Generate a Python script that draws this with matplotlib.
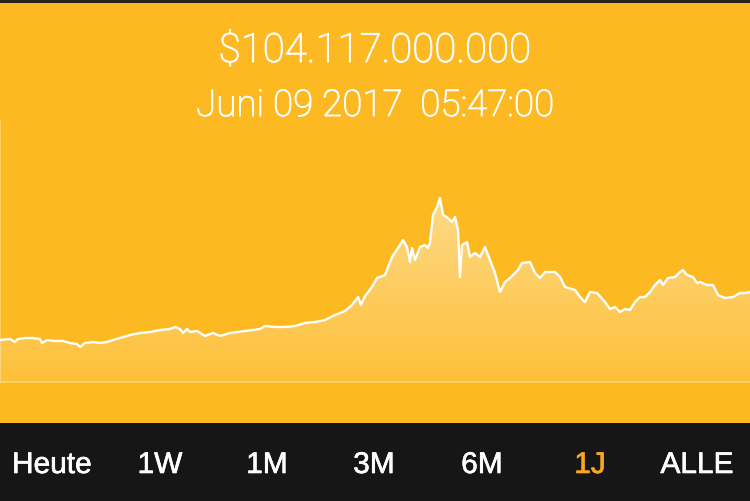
import numpy as np
import matplotlib
matplotlib.use("Agg")
import matplotlib.pyplot as plt
from matplotlib.patches import Polygon, Rectangle
import matplotlib.patheffects as pe

# ---- data (time index, relative market-cap level) ----
t = [0, 10, 15, 18, 25, 33, 40, 42, 47, 55, 63, 70, 77, 80, 85, 93, 100, 107, 113, 120,
     130, 140, 150, 160, 170, 175, 180, 183, 187, 190, 197, 205, 213, 220, 230, 245, 260,
     265, 275, 285, 295, 305, 315, 325, 335, 345, 352, 358, 361, 365, 372, 377, 385, 392,
     400, 403, 407, 410, 412, 415, 420, 425, 428, 430, 433, 437, 440, 443, 448, 452, 455,
     458, 460, 462, 467, 470, 475, 480, 485, 490, 495, 500, 505, 510, 518, 522, 530, 535,
     540, 545, 555, 560, 565, 575, 580, 585, 590, 597, 605, 610, 615, 620, 625, 630, 635,
     640, 645, 650, 655, 660, 663, 668, 675, 680, 683, 687, 693, 697, 700, 707, 713, 718,
     725, 733, 740, 745, 750]
level_px = [340, 339, 342, 339, 338, 338, 339, 343, 340, 341, 341, 343, 344, 347, 343, 342,
            343, 342, 340, 338, 335, 333, 332, 330, 329, 327, 329, 333, 329, 332, 331, 336,
            333, 336, 333, 331, 329, 326, 327, 327, 326, 323, 322, 320, 315, 311, 305, 297,
            305, 296, 287, 278, 275, 257, 245, 240, 247, 262, 248, 260, 247, 245, 248, 243,
            215, 207, 198, 215, 218, 222, 217, 230, 277, 245, 242, 257, 253, 257, 247, 260,
            273, 292, 282, 278, 270, 263, 262, 273, 278, 272, 272, 277, 287, 290, 297, 302,
            292, 293, 302, 309, 307, 312, 309, 310, 302, 297, 297, 292, 285, 280, 285, 278,
            277, 272, 270, 275, 277, 283, 282, 285, 285, 295, 298, 297, 293, 293, 292]
values = [382 - v for v in level_px]

title_value = "$104.117.000.000"
title_date = "Juni 09 2017  05:47:00"
ranges = ["Heute", "1W", "1M", "3M", "6M", "1J", "ALLE"]
active_range = "1J"

# ---- styling ----
BG = "#FDB922"
DARK = "#161616"
ACTIVE = "#F7A823"
W, H = 750, 501

fig = plt.figure(figsize=(W / 100, H / 100), dpi=100, facecolor=BG)

fig.patches.append(Rectangle((0, 1 - 3 / H), 1, 3 / H, transform=fig.transFigure,
                             facecolor="#2B241A", edgecolor="none", zorder=0))
fig.patches.append(Rectangle((0, 0), 1, (H - 423) / H, transform=fig.transFigure,
                             facecolor=DARK, edgecolor="none", zorder=0))

ax = fig.add_axes([0, (H - 382) / H, 1, 262 / H])
ax.set_facecolor("none")
ax.set_xlim(min(t), max(t))
ax.set_ylim(0, 262)

grad = np.zeros((256, 1, 4))
grad[..., :3] = 1.0
grad[:, 0, 3] = np.linspace(0.10, 0.62, 256)
im = ax.imshow(grad, extent=[min(t), max(t), 0, 262], origin="lower", aspect="auto",
               zorder=1, interpolation="bilinear")
verts = [(t[0], 0)] + list(zip(t, values)) + [(t[-1], 0)]
poly = Polygon(verts, closed=True, facecolor="none", edgecolor="none")
ax.add_patch(poly)
im.set_clip_path(poly)

ax.plot(t, values, color="white", lw=1.7, solid_joinstyle="round", zorder=3)

for s in ["top", "right"]:
    ax.spines[s].set_visible(False)
for s in ["left", "bottom"]:
    ax.spines[s].set_color((1, 1, 1, 0.35))
    ax.spines[s].set_linewidth(1.2)
ax.set_xticks([])
ax.set_yticks([])

thin = [pe.withStroke(linewidth=0.7, foreground="white")]
fig.text(0.5, (H - 62) / H, title_value, ha="center", va="baseline", color="white",
         fontsize=29, family=["Roboto", "DejaVu Sans"], fontweight="light",
         path_effects=thin)
fig.text(0.5, (H - 116) / H, title_date, ha="center", va="baseline", color="white",
         fontsize=26.5, family=["Roboto", "DejaVu Sans"], fontweight="light",
         path_effects=thin)

centers = [52, 160, 267, 374, 482, 590, 697]
for lab, cx in zip(ranges, centers):
    col = ACTIVE if lab == active_range else "white"
    fig.text(cx / W, (H - 473) / H, lab, ha="center", va="baseline", color=col,
             fontsize=21.5, family=["Liberation Sans", "DejaVu Sans"],
             path_effects=[pe.withStroke(linewidth=0.45, foreground=col)])

fig.savefig("out.png", dpi=100, facecolor=BG)
